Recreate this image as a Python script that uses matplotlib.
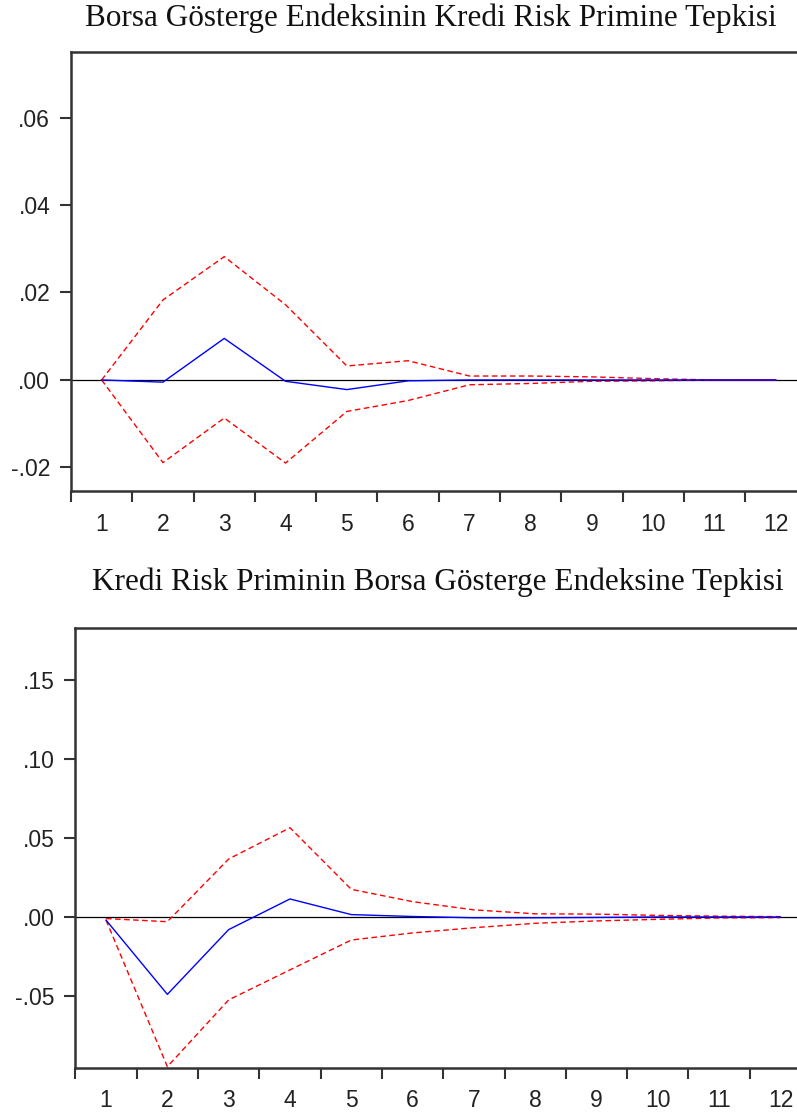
import numpy as np
import matplotlib
matplotlib.use("Agg")
import matplotlib.pyplot as plt

periods = np.arange(1, 13)

# Borsa Gösterge Endeksinin Kredi Risk Primine Tepkisi
resp_top = [0.0, -0.0005, 0.0095, -0.0003, -0.0022, -0.0002, 0.0, 0.0, 0.0, 0.0, 0.0, 0.0]
upper_top = [0.0, 0.0183, 0.0282, 0.0172, 0.0032, 0.0044, 0.0009, 0.0009, 0.0007, 0.0003, 0.0, 0.0]
lower_top = [0.0, -0.0189, -0.0087, -0.0190, -0.0072, -0.0047, -0.0011, -0.0008, -0.0003, -0.0002, 0.0, 0.0]

# Kredi Risk Priminin Borsa Gösterge Endeksine Tepkisi
resp_bot = [-0.002, -0.049, -0.008, 0.0114, 0.0015, 0.0003, -0.0005, -0.0005, -0.0003, 0.0, 0.0, 0.0]
upper_bot = [-0.001, -0.003, 0.0367, 0.0565, 0.0175, 0.0097, 0.0045, 0.0020, 0.0018, 0.0010, 0.0005, 0.0002]
lower_bot = [-0.002, -0.0948, -0.0525, -0.0335, -0.0146, -0.0101, -0.0068, -0.0040, -0.0025, -0.0015, -0.0006, -0.0004]

titles = ["Borsa Gösterge Endeksinin Kredi Risk Primine Tepkisi",
          "Kredi Risk Priminin Borsa Gösterge Endeksine Tepkisi"]
yticks_top = [-0.02, 0.0, 0.02, 0.04, 0.06]
yticks_bot = [-0.05, 0.0, 0.05, 0.10, 0.15]


def fmt(v, nd):
    s = f"{v:.{nd}f}"
    return s.replace("0.", ".", 1)


def draw_irf(ax, resp, upper, lower, yticks, ylim, nd):
    ax.axhline(0.0, color="black", linewidth=0.9, zorder=1)
    ax.plot(periods, upper, color="red", linewidth=1.0, dashes=(4, 2.5), zorder=2)
    ax.plot(periods, lower, color="red", linewidth=1.0, dashes=(4, 2.5), zorder=2)
    ax.plot(periods, resp, color="blue", linewidth=1.0, zorder=3)

    ax.set_xlim(0.5, 12.5)
    ax.set_ylim(ylim)
    ax.set_xticks(np.arange(0.5, 13.0, 1.0))
    ax.set_xticklabels([])
    ax.set_xticks(periods, minor=True)
    ax.set_xticklabels([str(p) for p in periods], minor=True, family="Liberation Sans",
                       fontsize=16.5, color="#222222")
    ax.tick_params(axis="x", which="major", direction="out", length=8, width=1.5, color="#333333")
    ax.tick_params(axis="x", which="minor", length=0, pad=15.5)
    ax.set_yticks(yticks)
    ax.set_yticklabels([fmt(v, nd) for v in yticks], family="Liberation Sans",
                       fontsize=16.5, color="#222222")
    ax.tick_params(axis="y", direction="out", length=8, width=1.5, color="#333333", pad=7)
    for side in ["left", "top", "bottom", "right"]:
        ax.spines[side].set_linewidth(1.8)
        ax.spines[side].set_color("#333333")


fig = plt.figure(figsize=(7.97, 11.15), dpi=100)

ax1 = fig.add_axes([0.0891, 0.5596, 1.012 - 0.0891, 0.9534 - 0.5596])
draw_irf(ax1, resp_top, upper_top, lower_top, yticks_top, (-0.0254, 0.075), 2)

ax2 = fig.add_axes([0.0946, 0.0422, 1.0177 - 0.0946, 0.4368 - 0.0422])
draw_irf(ax2, resp_bot, upper_bot, lower_bot, yticks_bot, (-0.0956, 0.183), 2)

fig.text(431 / 797, 1 - 18 / 1115, titles[0], ha="center", va="center",
         family="Liberation Serif", fontsize=22.5, color="#111111")
fig.text(438 / 797, 1 - 582 / 1115, titles[1], ha="center", va="center",
         family="Liberation Serif", fontsize=22.5, color="#111111")

fig.savefig("out.png", dpi=100)
